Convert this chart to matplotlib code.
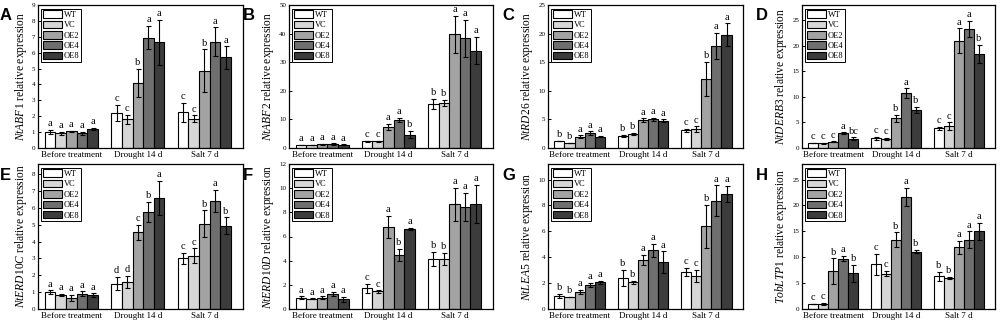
import matplotlib
matplotlib.use("Agg")
import matplotlib.pyplot as plt
import numpy as np

plt.rcParams["font.family"] = ["Liberation Serif", "DejaVu Serif"]
plt.rcParams["mathtext.fontset"] = "custom"
plt.rcParams["mathtext.it"] = "Liberation Serif:italic"
plt.rcParams["mathtext.rm"] = "Liberation Serif"

groups = ["Before treatment", "Drought 14 d", "Salt 7 d"]
lines = ["WT", "VC", "OE2", "OE4", "OE8"]
colors = ["#ffffff", "#d6d6d6", "#a3a3a3", "#6f6f6f", "#3c3c3c"]

# rows = lines (WT, VC, OE2, OE4, OE8), columns = groups
abf1_mean = [[1.00, 2.20, 2.25], [0.92, 1.80, 1.85], [1.05, 4.10, 4.85], [0.92, 6.95, 6.70], [1.20, 6.65, 5.70]]
abf1_err = [[0.15, 0.50, 0.60], [0.08, 0.30, 0.20], [0.05, 0.90, 1.35], [0.08, 0.75, 0.90], [0.05, 1.40, 0.70]]
abf1_sig = [["a", "c", "c"], ["a", "c", "c"], ["a", "b", "b"], ["a", "a", "a"], ["a", "a", "a"]]

abf2_mean = [[1.0, 2.3, 15.5], [1.0, 2.3, 15.8], [1.3, 7.4, 39.7], [1.4, 9.8, 38.3], [1.2, 4.7, 34.0]]
abf2_err = [[0.1, 0.2, 1.8], [0.1, 0.2, 1.0], [0.2, 1.0, 6.5], [0.2, 0.8, 6.5], [0.1, 1.3, 4.8]]
abf2_sig = [["a", "c", "b"], ["a", "c", "b"], ["a", "a", "a"], ["a", "a", "a"], ["a", "b", "a"]]

rd26_mean = [[1.2, 2.1, 3.1], [0.9, 2.4, 3.3], [2.0, 4.9, 12.1], [2.6, 5.0, 17.8], [2.0, 4.8, 19.8]]
rd26_err = [[0.05, 0.2, 0.3], [0.05, 0.2, 0.5], [0.2, 0.3, 3.0], [0.3, 0.3, 2.3], [0.1, 0.2, 2.0]]
rd26_sig = [["b", "b", "c"], ["b", "b", "c"], ["a", "a", "b"], ["a", "a", "a"], ["a", "a", "a"]]

derb3_mean = [[1.0, 1.9, 3.9], [0.9, 1.8, 4.3], [1.2, 5.8, 21.0], [2.9, 10.7, 23.3], [1.8, 7.4, 18.4]]
derb3_err = [[0.05, 0.3, 0.3], [0.1, 0.2, 0.7], [0.1, 0.7, 2.4], [0.15, 1.0, 1.6], [0.3, 0.6, 1.8]]
derb3_sig = [["c", "c", "c"], ["c", "c", "c"], ["c", "b", "a"], ["a", "a", "a"], ["bc", "b", "b"]]

erd10c_mean = [[1.00, 1.50, 3.00], [0.85, 1.60, 3.15], [0.65, 4.55, 5.05], [0.90, 5.75, 6.40], [0.82, 6.60, 4.93]]
erd10c_err = [[0.10, 0.40, 0.35], [0.05, 0.35, 0.45], [0.20, 0.45, 0.80], [0.15, 0.60, 0.65], [0.10, 1.00, 0.50]]
erd10c_sig = [["a", "d", "c"], ["a", "d", "c"], ["a", "c", "b"], ["a", "b", "a"], ["a", "a", "b"]]

erd10d_mean = [[0.95, 1.70, 4.15], [0.85, 1.45, 4.15], [0.95, 6.80, 8.65], [1.25, 4.50, 8.45], [0.80, 6.60, 8.70]]
erd10d_err = [[0.10, 0.40, 0.55], [0.03, 0.10, 0.50], [0.10, 0.90, 1.40], [0.15, 0.50, 1.15], [0.20, 0.10, 1.55]]
erd10d_sig = [["a", "c", "b"], ["a", "c", "b"], ["a", "a", "a"], ["a", "b", "a"], ["a", "a", "a"]]

lea5_mean = [[1.00, 2.40, 2.85], [0.92, 2.05, 2.55], [1.30, 3.80, 6.40], [1.88, 4.55, 8.35], [2.05, 3.60, 8.90]]
lea5_err = [[0.15, 0.65, 0.30], [0.03, 0.15, 0.50], [0.15, 0.40, 1.65], [0.15, 0.50, 1.20], [0.15, 0.85, 0.60]]
lea5_sig = [["b", "b", "c"], ["b", "b", "c"], ["a", "a", "b"], ["a", "a", "a"], ["a", "a", "a"]]

ltp1_mean = [[1.0, 8.6, 6.3], [1.0, 6.85, 6.0], [7.3, 13.4, 11.9], [9.75, 21.6, 13.4], [6.9, 11.1, 15.0]]
ltp1_err = [[0.05, 2.1, 0.9], [0.15, 0.5, 0.2], [2.5, 1.4, 1.2], [0.5, 1.8, 1.6], [1.6, 0.3, 1.6]]
ltp1_sig = [["c", "c", "b"], ["c", "c", "b"], ["b", "b", "a"], ["a", "a", "a"], ["b", "b", "a"]]

panels = [
    ("A", "NtABF1", abf1_mean, abf1_err, abf1_sig, 9, np.arange(0, 10, 1)),
    ("B", "NtABF2", abf2_mean, abf2_err, abf2_sig, 50, np.arange(0, 51, 10)),
    ("C", "NtRD26", rd26_mean, rd26_err, rd26_sig, 25, np.arange(0, 26, 5)),
    ("D", "NtDERB3", derb3_mean, derb3_err, derb3_sig, 28, np.arange(0, 26, 5)),
    ("E", "NtERD10C", erd10c_mean, erd10c_err, erd10c_sig, 8.6, np.arange(0, 9, 1)),
    ("F", "NtERD10D", erd10d_mean, erd10d_err, erd10d_sig, 12, np.arange(0, 13, 2)),
    ("G", "NtLEA5", lea5_mean, lea5_err, lea5_sig, 11.2, np.arange(0, 11, 2)),
    ("H", "TobLTP1", ltp1_mean, ltp1_err, ltp1_sig, 28, np.arange(0, 26, 5)),
]

W, H = 1000, 323
cols_px = [(38, 243), (289, 493), (548, 743), (802, 995)]
rows_px = [(5, 148), (164, 309)]

fig = plt.figure(figsize=(10, 3.23), dpi=100)
x = np.arange(len(groups))
bw = 0.16

for i, (tag, gene, mean, err, sig, ytop, yt) in enumerate(panels):
    x0, x1 = cols_px[i % 4]
    y0, y1 = rows_px[i // 4]
    ax = fig.add_axes([x0 / W, 1 - y1 / H, (x1 - x0) / W, (y1 - y0) / H])
    for j, name in enumerate(lines):
        pos = x + (j - 2) * bw
        ax.bar(pos, mean[j], bw, yerr=err[j], color=colors[j], edgecolor="black",
               linewidth=0.8, label=name,
               error_kw=dict(ecolor="black", elinewidth=0.8, capsize=1.8, capthick=0.8))
        for k in range(len(groups)):
            ax.text(pos[k], mean[j][k] + err[j][k] + ytop * 0.012, sig[j][k],
                    ha="center", va="bottom", fontsize=7.5)
    ax.set_xlim(-0.5, 2.58)
    ax.set_ylim(0, ytop)
    ax.set_yticks(yt)
    ax.set_xticks(x)
    ax.set_xticklabels(groups, fontsize=6.5)
    ax.tick_params(axis="x", length=0, pad=2)
    ax.tick_params(axis="y", direction="in", length=2.5, width=0.7, labelsize=5, pad=2)
    for s in ax.spines.values():
        s.set_linewidth(0.9)
    ax.set_ylabel(r"$\it{" + gene + r"}$ relative expression", fontsize=8.3, labelpad=2)
    leg = ax.legend(loc="upper left", bbox_to_anchor=(0.015, 0.975), fontsize=6,
                    handlelength=2.3, handleheight=1.0, labelspacing=0.22, borderpad=0.2,
                    handletextpad=0.25, borderaxespad=0.0, frameon=True, fancybox=False,
                    edgecolor="black", framealpha=1)
    leg.get_frame().set_linewidth(0.7)
    fig.text(max(0, x0 - 46) / W, 1 - (y0 + 11) / H, tag, fontsize=12, fontweight="bold",
             family="Liberation Sans", ha="left", va="center")

fig.savefig("out.png", dpi=100)
